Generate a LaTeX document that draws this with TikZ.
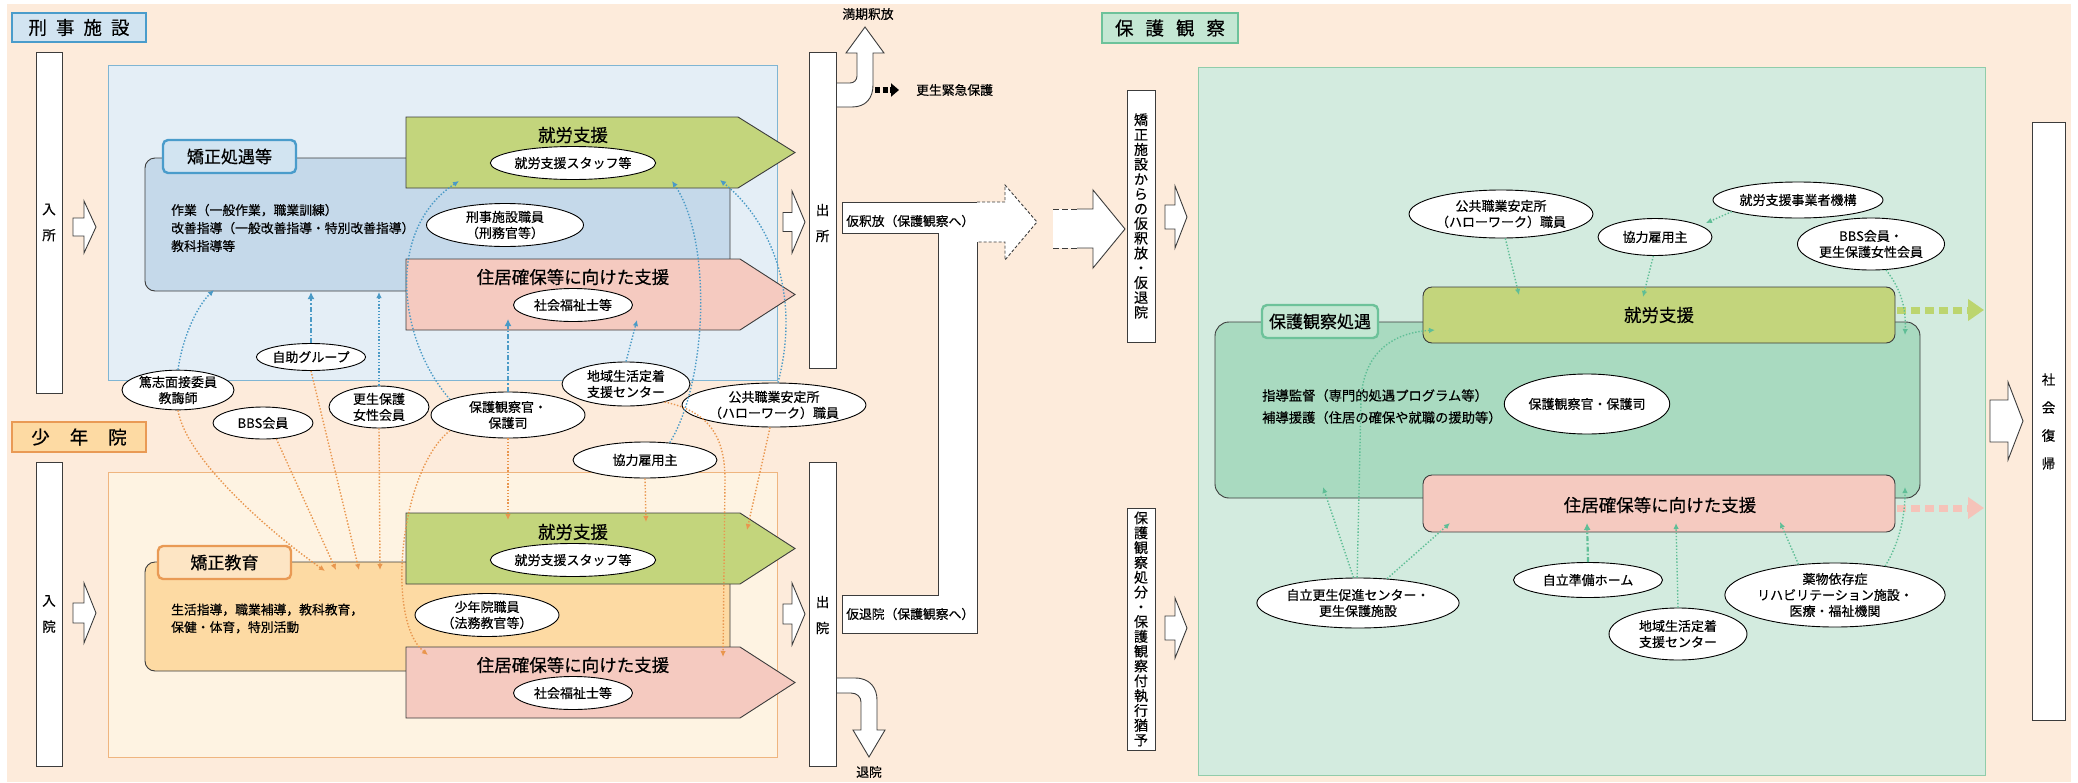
\documentclass[tikz,border=0pt]{standalone}
\usepackage{fontspec}
\setmainfont{Noto Sans CJK JP}[FakeBold=0.4]
\usetikzlibrary{arrows.meta,shapes.geometric}
\definecolor{bgpeach}{HTML}{FDEBDB}
\definecolor{bluearea}{HTML}{E4EEF6}
\definecolor{blueareaB}{HTML}{7FB5D3}
\definecolor{bluebox}{HTML}{C5D9EA}
\definecolor{bluetab}{HTML}{D2E4F1}
\definecolor{bluetabB}{HTML}{4A9CCB}
\definecolor{greenarr}{HTML}{C3D57C}
\definecolor{pinkarr}{HTML}{F5CAC0}
\definecolor{orarea}{HTML}{FEF3E2}
\definecolor{orareaB}{HTML}{EFB57F}
\definecolor{orbox}{HTML}{FDDAA3}
\definecolor{ortab}{HTML}{FDE5C4}
\definecolor{ortabB}{HTML}{E99A55}
\definecolor{grarea}{HTML}{D3EBDF}
\definecolor{grareaB}{HTML}{90CCAA}
\definecolor{grbox}{HTML}{A9DAC0}
\definecolor{grtab}{HTML}{C4E7D3}
\definecolor{grtabB}{HTML}{6DC29A}
\definecolor{bluearr}{HTML}{4A9AC6}
\definecolor{orarr}{HTML}{E9964E}
\definecolor{grarr}{HTML}{5FBE96}
\definecolor{darkline}{HTML}{3C3C3C}
\definecolor{gdash}{HTML}{BCD56F}
\definecolor{pdash}{HTML}{F5C3B9}
\newcommand{\harrowR}[6]{%
  \draw[hollow] (#1,{#3-#4}) -- ({#2-#6},{#3-#4}) -- ({#2-#6},{#3-#5}) -- (#2,#3) -- ({#2-#6},{#3+#5}) -- ({#2-#6},{#3+#4}) -- (#1,{#3+#4}) -- cycle;}
\begin{document}
\begin{tikzpicture}[x=1pt,y=-1pt,
  ell/.style={ellipse,draw=black,line width=0.9pt,fill=white,inner sep=0pt,align=center,font=\fontsize{13}{16}\selectfont},
  hollow/.style={draw=darkline,line width=0.9pt,fill=white,line join=miter},
  vbarbox/.style={draw=darkline,line width=0.9pt,fill=white,inner sep=0pt},
  vtext/.style={align=center,inner sep=0pt,font=\fontsize{13.5}{26}\selectfont},
  vtextL/.style={align=center,inner sep=0pt,font=\fontsize{14}{14.8}\selectfont},
  body/.style={anchor=west,align=left,inner sep=0pt},
  big/.style={inner sep=0pt,font=\fontsize{17.5}{20}\selectfont},
  small/.style={inner sep=0pt,font=\fontsize{12.8}{15}\selectfont},
  title/.style={line width=1.8pt,inner sep=0pt,font=\fontsize{18.5}{20}\selectfont},
  tabbox/.style={rounded corners=5pt,line width=2.4pt,inner sep=0pt,font=\fontsize{17}{18}\selectfont},
  blu/.style={draw=bluearr,line width=1.4pt,dash pattern=on 1.4pt off 1.8pt,-{Latex[length=6pt,width=5.5pt]}},
  bludd/.style={draw=bluearr,line width=2.2pt,dash pattern=on 5pt off 2pt on 1.5pt off 2pt,-{Latex[length=7pt,width=7pt]}},
  ora/.style={draw=orarr,line width=1.4pt,dash pattern=on 1.4pt off 1.8pt,-{Latex[length=6pt,width=5.5pt]}},
  grn/.style={draw=grarr,line width=1.4pt,dash pattern=on 1.4pt off 1.8pt,-{Latex[length=6pt,width=5.5pt]}},
  grndd/.style={draw=grarr,line width=2.2pt,dash pattern=on 5pt off 2pt on 1.5pt off 2pt,-{Latex[length=7pt,width=7pt]}},
  ]
\useasboundingbox (0,0) rectangle (2078,782);
\fill[white] (0,0) rectangle (2078,782);
\fill[bgpeach] (7,4) rectangle (2071,782);

% ---------- areas ----------
\path[fill=bluearea,draw=blueareaB,line width=1pt] (108,65) rectangle (777,380);
\path[fill=orarea,draw=orareaB,line width=1pt] (108,472) rectangle (777,757);
\path[fill=grarea,draw=grareaB,line width=1pt] (1198,67) rectangle (1985,775);

% ---------- titles ----------
\node[title,draw=bluetabB,fill=bluetab,minimum width=134pt,minimum height=29pt] (tKeiji) at (79,27.5) {刑\hspace{9pt}事\hspace{9pt}施\hspace{9pt}設};
\node[title,draw=ortabB,fill=orbox,minimum width=134pt,minimum height=30pt] (tShonen) at (79,437) {少\hspace{20pt}年\hspace{20pt}院};
\node[title,draw=grtabB,fill=grtab,minimum width=136pt,minimum height=30pt] (tHogo) at (1170,28) {保\hspace{12pt}護\hspace{12pt}観\hspace{12pt}察};

% ---------- vertical bars ----------
\node[vbarbox,minimum width=26pt,minimum height=341pt] (nyusho) at (49,222.5) {};
\node[vtext] at (nyusho.center) {入\\所};
\node[vbarbox,minimum width=26pt,minimum height=304pt] (nyuin) at (49,614) {};
\node[vtext] at (nyuin.center) {入\\院};
\node[vbarbox,minimum width=27pt,minimum height=316pt] (shussho) at (822.5,210) {};
\node[vtext] at (822.5,223) {出\\所};
\node[vbarbox,minimum width=27pt,minimum height=304pt] (shutsuin) at (822.5,614) {};
\node[vtext] at (822.5,615) {出\\院};
\node[vbarbox,minimum width=28pt,minimum height=252pt] (vKyosei) at (1141,216) {};
\node[vtextL] at (vKyosei.center) {矯\\正\\施\\設\\か\\ら\\の\\仮\\釈\\放\\・\\仮\\退\\院};
\node[vbarbox,minimum width=28pt,minimum height=242pt] (vHogo) at (1141,629) {};
\node[vtextL] at (vHogo.center) {保\\護\\観\\察\\処\\分\\・\\保\\護\\観\\察\\付\\執\\行\\猶\\予};
\node[vbarbox,minimum width=33pt,minimum height=598pt] (shakai) at (2048.5,421) {};
\node[vtext,font=\fontsize{13.5}{28}\selectfont] at (2048.5,421.5) {社\\会\\復\\帰};

% ---------- hollow arrows ----------
\harrowR{73}{96}{227}{9}{26}{12}
\harrowR{783}{805}{222}{9.5}{31}{13}
\harrowR{73}{96}{613}{10}{30}{12}
\harrowR{783}{805}{614}{10}{31}{13}
\harrowR{1165}{1187}{217}{12}{31}{12}
\harrowR{1165}{1187}{628}{12}{30}{12}
\harrowR{1990}{2023}{421}{21}{39}{15}

% ---------- keiji section boxes ----------
\draw[rounded corners=10pt,fill=bluebox,draw=darkline,line width=0.9pt] (145,158) rectangle (730,291);
\node[tabbox,draw=bluetabB,fill=bluetab,minimum width=133pt,minimum height=33pt] (tabA) at (229.5,156.5) {矯正処遇等};
\node[body,font=\fontsize{12.8}{18}\selectfont] (bodyA) at (171,228) {作業（一般作業，職業訓練）\\改善指導（一般改善指導・特別改善指導）\\教科指導等};
\draw[fill=greenarr,draw=darkline,line width=0.9pt] (406,117) -- (738,117) -- (795,152.5) -- (738,188) -- (406,188) -- cycle;
\node[big] (shuroA) at (573,135) {就労支援};
\node[ell,minimum width=165pt,minimum height=33pt] (staffA) at (573,163) {就労支援スタッフ等};
\draw[fill=pinkarr,draw=darkline,line width=0.9pt] (406,259) -- (740,259) -- (795,294.5) -- (740,330) -- (406,330) -- cycle;
\node[big] (jukyoA) at (573,277) {住居確保等に向けた支援};
\node[ell,minimum width=119pt,minimum height=33pt] (fukushiA) at (573,305) {社会福祉士等};
\node[ell,minimum width=157pt,minimum height=43pt] (keimu) at (505,225) {刑事施設職員\\（刑務官等）};

% ---------- shonen section boxes ----------
\draw[rounded corners=10pt,fill=orbox,draw=darkline,line width=0.9pt] (145,562) rectangle (730,671);
\node[tabbox,draw=ortabB,fill=ortab,minimum width=133pt,minimum height=33pt] (tabB) at (224.5,562.5) {矯正教育};
\node[body,font=\fontsize{12.8}{17.5}\selectfont] (bodyB) at (171,618.5) {生活指導，職業補導，教科教育，\\保健・体育，特別活動};
\draw[fill=greenarr,draw=darkline,line width=0.9pt] (406,513) -- (740,513) -- (795,548.5) -- (740,584) -- (406,584) -- cycle;
\node[big] (shuroB) at (573,532) {就労支援};
\node[ell,minimum width=165pt,minimum height=33pt] (staffB) at (573,560) {就労支援スタッフ等};
\draw[fill=pinkarr,draw=darkline,line width=0.9pt] (406,647) -- (740,647) -- (795,682.5) -- (740,718) -- (406,718) -- cycle;
\node[big] (jukyoB) at (573,665) {住居確保等に向けた支援};
\node[ell,minimum width=119pt,minimum height=33pt] (fukushiB) at (573,693) {社会福祉士等};
\node[ell,minimum width=144pt,minimum height=43pt] (homu) at (487,615) {少年院職員\\（法務教官等）};

% ---------- middle flows ----------
\fill[white] (842,202) -- (1005,202) -- (1005,185) -- (1037,222) -- (1005,260) -- (1005,242) -- (977,242) -- (977,633) -- (842,633) -- (842,595) -- (938,595) -- (938,233) -- (842,233) -- cycle;
\draw[darkline,line width=0.9pt] (842,233) -- (842,202) -- (977,202);
\draw[darkline,line width=0.9pt] (977,242) -- (977,633) -- (842,633) -- (842,595) -- (938,595) -- (938,233) -- (842,233);
\draw[darkline,line width=0.9pt,dash pattern=on 3pt off 2pt] (977,202) -- (1005,202) -- (1005,185) -- (1037,222) -- (1005,260) -- (1005,242) -- (977,242);
\node[small,anchor=west] (karishaku) at (846,221) {仮釈放（保護観察へ）};
\node[small,anchor=west] (karitai) at (846,614) {仮退院（保護観察へ）};

\fill[white] (1053,209) -- (1093,209) -- (1093,190) -- (1125,229) -- (1093,268) -- (1093,248) -- (1053,248) -- cycle;
\draw[darkline,line width=0.9pt] (1077,209) -- (1093,209) -- (1093,190) -- (1125,229) -- (1093,268) -- (1093,248) -- (1077,248);
\draw[darkline,line width=0.9pt,dash pattern=on 6pt off 3pt] (1053,209) -- (1077,209);
\draw[darkline,line width=0.9pt,dash pattern=on 6pt off 3pt] (1053,248) -- (1077,248);

% manki curved arrow
\draw[hollow] (837,107) -- (852,107) .. controls (866,107) and (873,98) .. (873,85) -- (873,53) -- (884,53) -- (865,27) -- (846,53) -- (857,53) -- (857,76) .. controls (857,80) and (854,83) .. (850,83) -- (837,83);
\node[small] (manki) at (868,14) {満期釈放};
\coordinate (kk1) at (875,90);
\coordinate (kk2) at (899,90);
\draw[black,line width=6pt,dash pattern=on 5pt off 2.5pt,-{Triangle[length=8pt,width=13pt]}] (kk1) -- (kk2);
\node[small,anchor=west] (kinkyu) at (916,90) {更生緊急保護};

% taiin curved arrow
\draw[hollow] (837,678) -- (855,678) .. controls (870,678) and (877,688) .. (877,700) -- (877,730) -- (885,730) -- (869,757) -- (853,730) -- (861,730) -- (861,702) .. controls (861,697) and (857,693) .. (851,693) -- (837,693);
\node[small] (taiin) at (869,772) {退院};

% ---------- hogo section ----------
\draw[rounded corners=14pt,fill=grbox,draw=darkline,line width=0.9pt] (1215,322) rectangle (1920,498);
\node[tabbox,draw=grtabB,fill=grtab,minimum width=116pt,minimum height=33pt] (tabC) at (1320,321.5) {保護観察処遇};
\node[body,font=\fontsize{13.3}{22}\selectfont] (bodyC) at (1262,406.5) {指導監督（専門的処遇プログラム等）\\補導援護（住居の確保や就職の援助等）};
\draw[rounded corners=9pt,fill=greenarr,draw=darkline,line width=0.9pt] (1423,287) rectangle (1895,343);
\node[big] (shuroC) at (1659,315) {就労支援};
\draw[rounded corners=9pt,fill=pinkarr,draw=darkline,line width=0.9pt] (1423,475) rectangle (1895,532);
\node[big] (jukyoC) at (1660,505) {住居確保等に向けた支援};
\coordinate (gd1) at (1897,310);
\coordinate (gd2) at (1984,310);
\draw[gdash,line width=7pt,dash pattern=on 9pt off 5pt,-{Triangle[length=16pt,width=21pt]}] (gd1) -- (gd2);
\coordinate (pd1) at (1897,508);
\coordinate (pd2) at (1984,508);
\draw[pdash,line width=7pt,dash pattern=on 9pt off 5pt,-{Triangle[length=16pt,width=21pt]}] (pd1) -- (pd2);

\node[ell,minimum width=157pt,minimum height=60pt] (hogo2) at (1587,404) {保護観察官・保護司};
\node[ell,minimum width=172pt,minimum height=48pt] (kokyo2) at (1501,214) {公共職業安定所\\（ハローワーク）職員};
\node[ell,minimum width=114pt,minimum height=37pt] (kyoryoku2) at (1655,237) {協力雇用主};
\node[ell,minimum width=170pt,minimum height=36pt] (jigyo) at (1798,200) {就労支援事業者機構};
\node[ell,minimum width=137pt,minimum height=52pt] (bbs2) at (1871,244) {BBS会員・\\更生保護女性会員};
\node[ell,minimum width=190pt,minimum height=50pt] (jiritsu) at (1358,603) {自立更生促進センター・\\更生保護施設};
\node[ell,minimum width=149pt,minimum height=35pt] (junbi) at (1588,580) {自立準備ホーム};
\node[ell,minimum width=138pt,minimum height=52pt] (chiiki2) at (1678,634) {地域生活定着\\支援センター};
\node[ell,minimum width=175pt,minimum height=64pt] (yaku) at (1835,595) {薬物依存症\\リハビリテーション施設・\\医療・福祉機関};

% ---------- gap ellipses (left) ----------
\node[ell,minimum width=112pt,minimum height=38pt] (tokushi) at (178,390) {篤志面接委員\\教誨師};
\node[ell,minimum width=108pt,minimum height=27pt] (jijo) at (311,357) {自助グループ};
\node[ell,minimum width=100pt,minimum height=32pt] (bbs) at (263,423) {BBS会員};
\node[ell,minimum width=100pt,minimum height=42pt] (kosei) at (379,407) {更生保護\\女性会員};
\node[ell,minimum width=154pt,minimum height=46pt] (hogo) at (508,415) {保護観察官・\\保護司};
\node[ell,minimum width=128pt,minimum height=44pt] (chiiki) at (626,384) {地域生活定着\\支援センター};
\node[ell,minimum width=162pt,minimum height=44pt] (kokyo) at (774,405) {公共職業安定所\\（ハローワーク）職員};
\node[ell,minimum width=144pt,minimum height=36pt] (kyoryoku) at (645,460) {協力雇用主};

% ---------- blue connectors ----------
\coordinate (tA1) at (214,290);
\coordinate (tA2) at (311,292);
\coordinate (tA3) at (379,292);
\coordinate (tA4) at (459,181);
\coordinate (tA5) at (508,319);
\coordinate (tA6) at (637,320);
\coordinate (tA7) at (672,181);
\coordinate (tA8) at (720,180);
\draw[blu] (tokushi.north) .. controls (183,335) and (198,305) .. (tA1);
\draw[bludd] (jijo.north) -- (tA2);
\draw[blu] (kosei.north) -- (tA3);
\draw[blu] (hogo.165) .. controls (398,340) and (385,230) .. (tA4);
\draw[bludd] (hogo.north) -- (tA5);
\draw[blu] (chiiki.north) -- (tA6);
\draw[blu] (kyoryoku.35) .. controls (708,380) and (712,240) .. (tA7);
\draw[blu] (kokyo.80) .. controls (800,300) and (775,225) .. (tA8);

% ---------- orange connectors ----------
\coordinate (bA1) at (325,571);
\coordinate (bA2) at (336,570);
\coordinate (bA3) at (359,570);
\coordinate (bA4) at (380,570);
\coordinate (bA5) at (428,655);
\coordinate (bA6) at (508,520);
\coordinate (bA7) at (646,522);
\coordinate (bA8) at (723,657);
\coordinate (bA9) at (747,530);
\draw[ora] (tokushi.south) .. controls (185,455) and (260,525) .. (bA1);
\draw[ora] (bbs.-50) -- (bA2);
\draw[ora] (jijo.south) -- (bA3);
\draw[ora] (kosei.south) -- (bA4);
\draw[ora] (hogo.195) .. controls (400,470) and (385,620) .. (bA5);
\draw[ora] (hogo.south) -- (bA6);
\draw[ora] (kyoryoku.south) -- (bA7);
\draw[ora] (chiiki.-25) .. controls (712,412) and (725,440) .. (725,480) -- (bA8);
\draw[ora] (kokyo.-100) -- (bA9);

% ---------- green connectors ----------
\coordinate (rA1) at (1519,295);
\coordinate (rA2) at (1706,223);
\coordinate (rA3) at (1643,297);
\coordinate (rA4) at (1905,335);
\coordinate (rA5) at (1323,487);
\coordinate (rA6) at (1435,330);
\coordinate (rA7) at (1450,523);
\coordinate (rA8) at (1587,523);
\coordinate (rA9) at (1676,523);
\coordinate (rA10) at (1780,522);
\coordinate (rA11) at (1905,487);
\draw[grn] (kokyo2.-80) -- (rA1);
\draw[grn] (jigyo.190) -- (rA2);
\draw[grn] (kyoryoku2.-95) -- (rA3);
\draw[grn] (bbs2.-60) .. controls (1902,290) and (1906,310) .. (rA4);
\draw[grn] (jiritsu.100) -- (rA5);
\draw[grn] (jiritsu.92) -- (1361,400) .. controls (1363,355) and (1390,333) .. (rA6);
\draw[grn] (jiritsu.40) -- (rA7);
\draw[grndd] (junbi.north) -- (rA8);
\draw[grn] (chiiki2.north) -- (rA9);
\draw[grn] (yaku.140) -- (rA10);
\draw[grn] (yaku.30) .. controls (1898,545) and (1905,520) .. (rA11);
\end{tikzpicture}
\end{document}
